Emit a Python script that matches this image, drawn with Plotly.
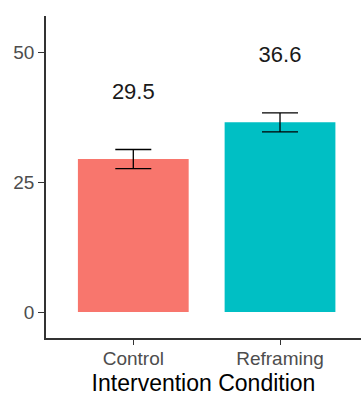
import plotly.graph_objects as go

# Mean score by intervention condition, with standard errors
conditions = ["Control", "Reframing"]
means = [29.5, 36.6]
errors = [1.85, 1.83]
bar_colors = ["#F8766D", "#00BFC4"]
y_ticks = [0, 25, 50]
label_offset = 12.6

fig = go.Figure()

fig.add_trace(go.Bar(
    x=conditions,
    y=means,
    width=0.755,
    marker=dict(color=bar_colors, line=dict(width=0)),
    error_y=dict(type="data", array=errors, visible=True,
                 color="black", thickness=1.3, width=18),
    showlegend=False,
    hoverinfo="skip",
))

fig.add_trace(go.Scatter(
    x=conditions,
    y=[m + label_offset for m in means],
    mode="text",
    text=[f"{m:.1f}" for m in means],
    textposition="middle center",
    textfont=dict(family="Liberation Sans, Arial, sans-serif", size=22, color="#1a1a1a"),
    showlegend=False,
    hoverinfo="skip",
))

fig.update_layout(
    width=361,
    height=396,
    margin=dict(l=46, r=0, t=16, b=58),
    plot_bgcolor="white",
    paper_bgcolor="white",
    font=dict(family="Liberation Sans, Arial, sans-serif"),
    xaxis=dict(
        range=[-0.595, 1.552],
        showline=True, linecolor="#333333", linewidth=1.5,
        ticks="outside", ticklen=5, tickwidth=1.3, tickcolor="#333333",
        ticklabelstandoff=-3,
        tickfont=dict(size=19, color="#4D4D4D"),
        title=dict(text="Intervention Condition", standoff=10,
                   font=dict(size=23, color="black")),
        showgrid=False, zeroline=False, fixedrange=True,
    ),
    yaxis=dict(
        range=[-5.0, 57.1],
        tickvals=y_ticks,
        showline=True, linecolor="#333333", linewidth=1.5,
        ticks="outside", ticklen=6, tickwidth=1.3, tickcolor="#333333",
        tickfont=dict(size=19, color="#4D4D4D"),
        showgrid=False, zeroline=False, fixedrange=True,
    ),
)

fig.write_html("out.html", config={"displayModeBar": False})
